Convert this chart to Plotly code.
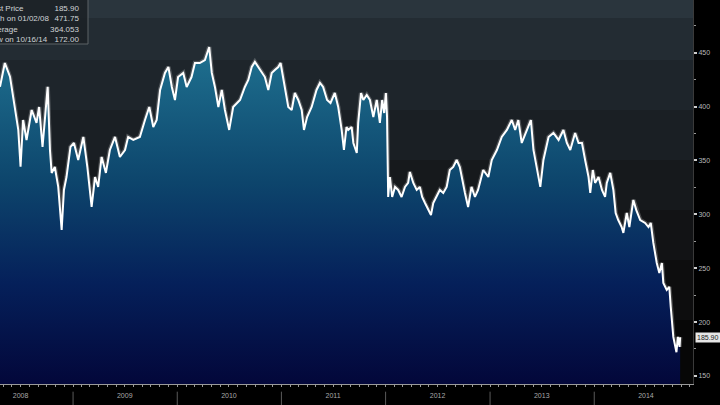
import plotly.graph_objects as go

dates = [
    "2008-04-20", "2008-05-07", "2008-05-25", "2008-06-05", "2008-06-15", "2008-06-23",
    "2008-07-01", "2008-07-10", "2008-07-22", "2008-08-09", "2008-08-26", "2008-09-04",
    "2008-09-16", "2008-09-24", "2008-10-04", "2008-10-12", "2008-10-18", "2008-10-29",
    "2008-11-10", "2008-11-22", "2008-11-30", "2008-12-09", "2008-12-23", "2009-01-04",
    "2009-01-19", "2009-02-06", "2009-02-20", "2009-03-07", "2009-03-19", "2009-03-30",
    "2009-04-11", "2009-04-26", "2009-05-10", "2009-05-28", "2009-06-14", "2009-07-02",
    "2009-07-13", "2009-07-31", "2009-08-23", "2009-09-10", "2009-09-25", "2009-10-09",
    "2009-10-21", "2009-11-02", "2009-11-19", "2009-12-01", "2009-12-13", "2009-12-24",
    "2010-01-04", "2010-01-22", "2010-02-03", "2010-02-20", "2010-03-04", "2010-03-21",
    "2010-04-08", "2010-04-23", "2010-05-02", "2010-05-13", "2010-05-25", "2010-06-06",
    "2010-06-17", "2010-07-02", "2010-07-16", "2010-08-09", "2010-08-26", "2010-09-07",
    "2010-09-19", "2010-09-30", "2010-10-12", "2010-10-24", "2010-11-04", "2010-11-16",
    "2010-11-28", "2010-12-09", "2010-12-21", "2010-12-29", "2011-01-07", "2011-01-13",
    "2011-01-25", "2011-02-06", "2011-02-17", "2011-03-01", "2011-03-13", "2011-03-21",
    "2011-04-01", "2011-04-17", "2011-05-04", "2011-05-16", "2011-05-27", "2011-06-10",
    "2011-06-22", "2011-07-07", "2011-07-19", "2011-07-31", "2011-08-08", "2011-08-17",
    "2011-08-23", "2011-09-04", "2011-09-10", "2011-09-22", "2011-09-27", "2011-10-07",
    "2011-10-15", "2011-10-27", "2011-11-07", "2011-11-19", "2011-12-01", "2011-12-12",
    "2011-12-20", "2011-12-27", "2012-01-02", "2012-01-06", "2012-01-10", "2012-01-16",
    "2012-01-24", "2012-02-03", "2012-02-14", "2012-02-26", "2012-03-09", "2012-03-20",
    "2012-03-26", "2012-04-07", "2012-04-19", "2012-04-30", "2012-05-08", "2012-05-18",
    "2012-05-29", "2012-06-08", "2012-06-16", "2012-06-28", "2012-07-09", "2012-07-21",
    "2012-08-02", "2012-08-13", "2012-08-25", "2012-09-06", "2012-09-17", "2012-10-05",
    "2012-10-16", "2012-10-28", "2012-11-09", "2012-11-20", "2012-12-08", "2012-12-26",
    "2013-01-07", "2013-01-25", "2013-02-11", "2013-03-01", "2013-03-18", "2013-03-30",
    "2013-04-10", "2013-04-22", "2013-05-10", "2013-05-24", "2013-06-02", "2013-06-14",
    "2013-06-26", "2013-07-07", "2013-07-25", "2013-08-11", "2013-08-29", "2013-09-15",
    "2013-09-27", "2013-10-09", "2013-10-26", "2013-11-07", "2013-11-19", "2013-11-30",
    "2013-12-12", "2013-12-18", "2013-12-27", "2014-01-04", "2014-01-16", "2014-01-28",
    "2014-02-08", "2014-02-14", "2014-02-26", "2014-03-09", "2014-03-17", "2014-03-26",
    "2014-04-07", "2014-04-13", "2014-04-25", "2014-05-04", "2014-05-18", "2014-05-28",
    "2014-06-11", "2014-06-28", "2014-07-10", "2014-07-18", "2014-07-27", "2014-08-08",
    "2014-08-17", "2014-08-26", "2014-08-31", "2014-09-12", "2014-09-21", "2014-09-26",
    "2014-10-05", "2014-10-16", "2014-10-21", "2014-10-27", "2014-10-29",
]

prices = [
    418.4, 440.4, 427.7, 409.2, 394.0, 378.3,
    344.2, 387.5, 369.0, 396.8, 384.8, 399.6,
    362.5, 384.8, 418.4, 359.7, 338.4, 343.9,
    325.4, 285.5, 322.6, 334.6, 362.5, 366.2,
    350.4, 371.8, 343.9, 306.8, 334.6, 325.4,
    353.2, 338.4, 359.7, 371.8, 353.2, 359.7,
    371.8, 369.0, 371.8, 387.5, 399.6, 381.0,
    387.5, 415.4, 431.2, 436.7, 418.2, 406.1,
    427.4, 431.2, 418.2, 427.4, 440.4, 440.4,
    443.2, 455.3, 431.2, 418.2, 399.6, 415.4,
    396.8, 378.3, 399.6, 406.1, 418.2, 424.7,
    436.7, 441.4, 436.7, 431.2, 427.4, 415.4,
    431.2, 433.9, 436.7, 440.4, 427.4, 418.2,
    399.6, 396.8, 412.6, 406.1, 396.8, 378.3,
    390.3, 399.6, 415.4, 421.9, 418.2, 406.1,
    403.3, 412.6, 399.6, 378.3, 359.7, 381.0,
    378.3, 381.0, 366.2, 356.9, 384.8, 412.6,
    406.1, 410.7, 406.1, 390.3, 406.1, 384.8,
    406.1, 394.0, 412.6, 390.3, 316.1, 334.6,
    316.1, 325.4, 322.6, 316.1, 325.4, 329.1,
    339.3, 329.1, 322.6, 325.4, 316.1, 310.5,
    304.1, 299.4, 310.5, 316.1, 322.6, 319.8,
    325.4, 341.1, 343.9, 350.4, 343.9, 319.8,
    306.8, 325.4, 316.1, 322.6, 341.1, 334.6,
    350.4, 359.7, 371.8, 378.3, 387.5, 378.3,
    387.5, 366.2, 378.3, 387.5, 359.7, 343.9,
    325.4, 350.4, 371.8, 375.5, 369.0, 378.3,
    366.2, 359.7, 375.5, 366.2, 366.2, 350.4,
    334.6, 319.8, 341.1, 329.1, 334.6, 322.6,
    316.1, 329.1, 338.4, 322.6, 301.2, 294.7,
    288.2, 282.7, 301.2, 288.2, 313.3, 304.1,
    294.7, 292.0, 288.2, 292.0, 273.4, 254.8,
    245.6, 254.8, 236.3, 229.8, 232.6, 214.0,
    186.2, 172.0, 186.2, 176.9, 185.9,
]

year_labels = ["2008", "2009", "2010", "2011", "2012", "2013", "2014"]
year_label_pos = ["2008-07-01", "2009-07-01", "2010-07-01", "2011-07-01",
                  "2012-07-01", "2013-07-01", "2014-07-01"]
year_starts = ["2009-01-01", "2010-01-01", "2011-01-01", "2012-01-01",
               "2013-01-01", "2014-01-01"]
y_ticks = [150, 200, 250, 300, 350, 400, 450]

legend_names = ["Last Price", "High on 01/02/08", "Average", "Low on 10/16/14"]
legend_values = ["185.90", "471.75", "364.053", "172.00"]
last_price = 185.90

X_RANGE = ["2008-04-20", "2014-12-13"]
Y_RANGE = [142.5, 498.9]
FONT = "Liberation Sans"

fig = go.Figure()

fig.add_trace(go.Scatter(
    x=dates, y=prices, mode="lines",
    line=dict(color="rgba(255,255,255,0.22)", width=4.5),
    hoverinfo="skip", showlegend=False,
))
fig.add_trace(go.Scatter(
    x=dates, y=prices, mode="lines",
    line=dict(color="#ffffff", width=2),
    fill="tozeroy",
    fillgradient=dict(
        type="vertical",
        colorscale=[[0.0, "#03073a"], [0.3, "#05205a"], [0.6, "#0d456c"], [1.0, "#1f7190"]],
        start=Y_RANGE[0], stop=455,
    ),
    showlegend=False,
))

# background bands (top -> bottom, in px from top of the plot area)
bands = [(0, 18, "#2a353d"), (18, 60, "#232c33"), (60, 110, "#1e252b"),
         (110, 160, "#1a1f24"), (160, 210, "#16191c"), (210, 260, "#121315"),
         (260, 320, "#0d0d0e"), (320, 384, "#070707")]
shapes = []
for top, bot, col in bands:
    shapes.append(dict(type="rect", xref="paper", yref="paper", x0=0, x1=1,
                       y0=1 - bot / 384, y1=1 - top / 384, fillcolor=col,
                       line=dict(width=0), layer="below"))
for ys in year_starts:
    shapes.append(dict(type="line", xref="x", yref="paper", x0=ys, x1=ys,
                       y0=-0.02, y1=-0.06, line=dict(color="#5a5a5a", width=1)))
# legend box
shapes.append(dict(type="rect", xref="paper", yref="paper", x0=-0.05, x1=88 / 693,
                   y0=1 - 44 / 384, y1=1.01, fillcolor="rgba(28,34,38,0.92)",
                   line=dict(color="#5c6266", width=1), layer="above"))

annotations = [
    dict(xref="paper", yref="paper", x=0, y=1 - 2 / 384, xanchor="left", yanchor="top",
         xshift=-14, text="<br>".join(legend_names), align="left", showarrow=False,
         font=dict(family=FONT, size=8, color="#d0d4d6")),
    dict(xref="paper", yref="paper", x=81 / 693, y=1 - 2 / 384, xanchor="right",
         yanchor="top", text="<br>".join(legend_values), align="right", showarrow=False,
         font=dict(family=FONT, size=8, color="#d0d4d6")),
    dict(xref="paper", yref="y", x=1, y=last_price, xanchor="left", yanchor="middle",
         xshift=2, text=f"{last_price:.2f}", showarrow=False, bgcolor="#e6e6e6",
         borderpad=1, font=dict(family=FONT, size=7, color="#222222")),
]

fig.update_layout(
    width=720, height=405,
    margin=dict(l=0, r=27, t=0, b=21),
    paper_bgcolor="#000000", plot_bgcolor="#000000",
    shapes=shapes, annotations=annotations,
    showlegend=False,
    xaxis=dict(
        type="date", range=X_RANGE, showgrid=False, zeroline=False,
        tickmode="array", tickvals=year_label_pos, ticktext=year_labels,
        ticks="", tickfont=dict(family=FONT, size=7, color="#a8a8a8"),
        ticklabelstandoff=5,
        showline=True, linecolor="#9a9a9a", linewidth=1,
        minor=dict(tickmode="linear", tick0="2008-01-01", dtick="M1",
                   ticks="outside", ticklen=2, tickcolor="#9a9a9a", showgrid=False),
    ),
    yaxis=dict(
        side="right", range=Y_RANGE, showgrid=False, zeroline=False,
        tickmode="array", tickvals=y_ticks,
        ticks="outside", ticklen=3, tickwidth=2, tickcolor="#cfcfcf",
        tickfont=dict(family=FONT, size=7, color="#b8b8b8"),
        showline=True, linecolor="#3a3a3a", linewidth=1,
        minor=dict(tickmode="linear", tick0=150, dtick=25, ticks="outside",
                   ticklen=2, tickwidth=1, tickcolor="#9a9a9a", showgrid=False),
    ),
)

fig.write_html(
    "out.html",
    config={"displayModeBar": False},
    post_script="document.body.style.margin='0';document.body.style.overflow='hidden';",
)
